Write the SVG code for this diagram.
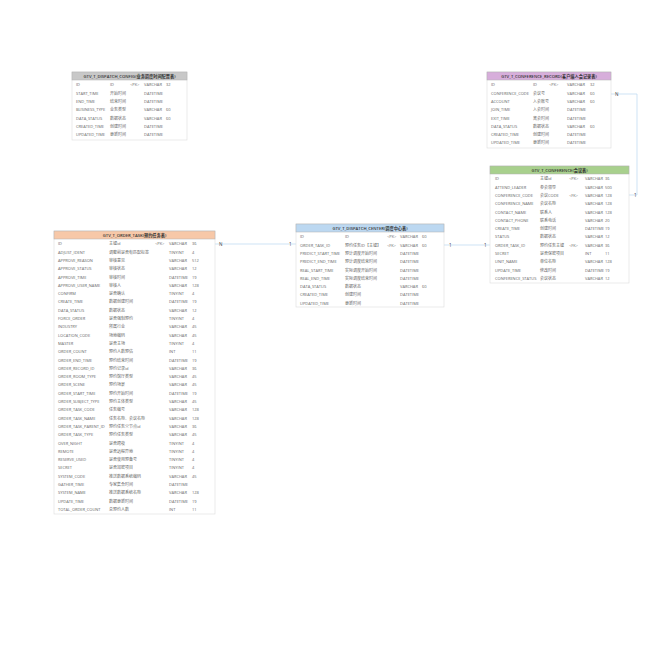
<svg xmlns="http://www.w3.org/2000/svg" width="650" height="650" viewBox="0 0 650 650">
<style>
.box{fill:#fff;stroke:#dcdcdc;stroke-width:0.6}
.hd{stroke:#b0b0b0;stroke-width:0.5}
.ht{font-family:"Open Sans","Noto Sans CJK SC",sans-serif;font-size:4.2px;font-weight:600;fill:#333;text-anchor:middle}
text{font-family:"Open Sans","Noto Sans CJK SC",sans-serif;font-size:4px;fill:#666}
.ln{fill:none;stroke:#b9d7f0;stroke-width:0.7}
.lb{font-size:4.6px;fill:#444}
</style>
<rect width="650" height="650" fill="#fff"/>

<g id="connectors">
<path class="ln" d="M215,244 H296"/>
<text class="lb" x="219" y="246">N</text>
<text class="lb" x="289" y="246">1</text>
<path class="ln" d="M444,245 H490"/>
<text class="lb" x="449" y="247">1</text>
<text class="lb" x="484" y="247">1</text>
<path class="ln" d="M611,94 H637 V195 H629"/>
<text class="lb" x="615" y="96">N</text>
<text class="lb" x="634" y="197">1</text>
</g>

<g id="dispatch_config">
<rect class="box" x="72" y="72" width="115" height="68"/>
<rect class="hd" x="72" y="72" width="115" height="8" fill="#c8c8c8"/>
<text class="ht" x="129.5" y="77.6">GTV_T_DISPATCH_CONFIG(业务调度时间配置表)</text>
<g transform="translate(0,86.4)">
<text x="76" y="0">ID</text><text x="110" y="0">ID</text><text x="130" y="0">&lt;PK&gt;</text><text x="144" y="0">VARCHAR</text><text x="166" y="0">32</text>
<text x="76" y="8.3">START_TIME</text><text x="110" y="8.3">开始时间</text><text x="144" y="8.3">DATETIME</text>
<text x="76" y="16.6">END_TIME</text><text x="110" y="16.6">结束时间</text><text x="144" y="16.6">DATETIME</text>
<text x="76" y="24.9">BUSINESS_TYPE</text><text x="110" y="24.9">业务类型</text><text x="144" y="24.9">VARCHAR</text><text x="166" y="24.9">60</text>
<text x="76" y="33.2">DATA_STATUS</text><text x="110" y="33.2">数据状态</text><text x="144" y="33.2">VARCHAR</text><text x="166" y="33.2">60</text>
<text x="76" y="41.5">CREATED_TIME</text><text x="110" y="41.5">创建时间</text><text x="144" y="41.5">DATETIME</text>
<text x="76" y="49.8">UPDATED_TIME</text><text x="110" y="49.8">更新时间</text><text x="144" y="49.8">DATETIME</text>
</g>
</g>

<g id="conference_record">
<rect class="box" x="487" y="72" width="124" height="76"/>
<rect class="hd" x="487" y="72" width="124" height="8" fill="#d7aedb"/>
<text class="ht" x="549" y="77.6">GTV_T_CONFERENCE_RECORD(客户端入会记录表)</text>
<g transform="translate(0,86.4)">
<text x="491" y="0">ID</text><text x="533" y="0">ID</text><text x="549" y="0">&lt;PK&gt;</text><text x="567" y="0">VARCHAR</text><text x="590" y="0">32</text>
<text x="491" y="8.3">CONFERENCE_CODE</text><text x="533" y="8.3">会议号</text><text x="567" y="8.3">VARCHAR</text><text x="590" y="8.3">60</text>
<text x="491" y="16.6">ACCOUNT</text><text x="533" y="16.6">入会账号</text><text x="567" y="16.6">VARCHAR</text><text x="590" y="16.6">60</text>
<text x="491" y="24.9">JOIN_TIME</text><text x="533" y="24.9">入会时间</text><text x="567" y="24.9">DATETIME</text>
<text x="491" y="33.2">EXIT_TIME</text><text x="533" y="33.2">离会时间</text><text x="567" y="33.2">DATETIME</text>
<text x="491" y="41.5">DATA_STATUS</text><text x="533" y="41.5">数据状态</text><text x="567" y="41.5">VARCHAR</text><text x="590" y="41.5">60</text>
<text x="491" y="49.8">CREATED_TIME</text><text x="533" y="49.8">创建时间</text><text x="567" y="49.8">DATETIME</text>
<text x="491" y="58.1">UPDATED_TIME</text><text x="533" y="58.1">更新时间</text><text x="567" y="58.1">DATETIME</text>
</g>
</g>

<g id="conference">
<rect class="box" x="490" y="166" width="139" height="117"/>
<rect class="hd" x="490" y="166" width="139" height="8" fill="#a8d08d"/>
<text class="ht" x="559.5" y="171.6">GTV_T_CONFERENCE(会议表)</text>
<g transform="translate(0,180.4)">
<text x="495" y="0">ID</text><text x="540" y="0">主键id</text><text x="569" y="0">&lt;PK&gt;</text><text x="585" y="0">VARCHAR</text><text x="605" y="0">36</text>
<text x="495" y="8.3">ATTEND_LEADER</text><text x="540" y="8.3">参会领导</text><text x="585" y="8.3">VARCHAR</text><text x="605" y="8.3">500</text>
<text x="495" y="16.6">CONFERENCE_CODE</text><text x="540" y="16.6">会议CODE</text><text x="569" y="16.6">&lt;FK&gt;</text><text x="585" y="16.6">VARCHAR</text><text x="605" y="16.6">128</text>
<text x="495" y="24.9">CONFERENCE_NAME</text><text x="540" y="24.9">会议名称</text><text x="585" y="24.9">VARCHAR</text><text x="605" y="24.9">128</text>
<text x="495" y="33.2">CONTACT_NAME</text><text x="540" y="33.2">联系人</text><text x="585" y="33.2">VARCHAR</text><text x="605" y="33.2">128</text>
<text x="495" y="41.5">CONTACT_PHONE</text><text x="540" y="41.5">联系电话</text><text x="585" y="41.5">VARCHAR</text><text x="605" y="41.5">20</text>
<text x="495" y="49.8">CREATE_TIME</text><text x="540" y="49.8">创建时间</text><text x="585" y="49.8">DATETIME</text><text x="605" y="49.8">19</text>
<text x="495" y="58.1">STATUS</text><text x="540" y="58.1">数据状态</text><text x="585" y="58.1">VARCHAR</text><text x="605" y="58.1">12</text>
<text x="495" y="66.4">ORDER_TASK_ID</text><text x="540" y="66.4">预约任务主键</text><text x="569" y="66.4">&lt;FK&gt;</text><text x="585" y="66.4">VARCHAR</text><text x="605" y="66.4">36</text>
<text x="495" y="74.7">SECRET</text><text x="540" y="74.7">是否保密项目</text><text x="585" y="74.7">INT</text><text x="605" y="74.7">11</text>
<text x="495" y="83">UNIT_NAME</text><text x="540" y="83">单位名称</text><text x="585" y="83">VARCHAR</text><text x="605" y="83">128</text>
<text x="495" y="91.3">UPDATE_TIME</text><text x="540" y="91.3">修改时间</text><text x="585" y="91.3">DATETIME</text><text x="605" y="91.3">19</text>
<text x="495" y="99.6">CONFERENCE_STATUS</text><text x="540" y="99.6">会议状态</text><text x="585" y="99.6">VARCHAR</text><text x="605" y="99.6">12</text>
</g>
</g>

<g id="dispatch_center">
<rect class="box" x="296" y="224" width="148" height="83"/>
<rect class="hd" x="296" y="224" width="148" height="8" fill="#bcd8f1"/>
<text class="ht" x="370" y="229.6">GTV_T_DISPATCH_CENTER(调度中心表)</text>
<g transform="translate(0,238.4)">
<text x="300" y="0">ID</text><text x="345" y="0">ID</text><text x="387" y="0">&lt;PK&gt;</text><text x="400" y="0">VARCHAR</text><text x="422" y="0">60</text>
<text x="300" y="8.3">ORDER_TASK_ID</text><text x="345" y="8.3">预约任务ID【主键】</text><text x="387" y="8.3">&lt;FK&gt;</text><text x="400" y="8.3">VARCHAR</text><text x="422" y="8.3">60</text>
<text x="300" y="16.6">PREDICT_START_TIME</text><text x="345" y="16.6">预计调度开始时间</text><text x="400" y="16.6">DATETIME</text>
<text x="300" y="24.9">PREDICT_END_TIME</text><text x="345" y="24.9">预计调度结束时间</text><text x="400" y="24.9">DATETIME</text>
<text x="300" y="33.2">REAL_START_TIME</text><text x="345" y="33.2">实际调度开始时间</text><text x="400" y="33.2">DATETIME</text>
<text x="300" y="41.5">REAL_END_TIME</text><text x="345" y="41.5">实际调度结束时间</text><text x="400" y="41.5">DATETIME</text>
<text x="300" y="49.8">DATA_STATUS</text><text x="345" y="49.8">数据状态</text><text x="400" y="49.8">VARCHAR</text><text x="422" y="49.8">60</text>
<text x="300" y="58.1">CREATED_TIME</text><text x="345" y="58.1">创建时间</text><text x="400" y="58.1">DATETIME</text>
<text x="300" y="66.4">UPDATED_TIME</text><text x="345" y="66.4">更新时间</text><text x="400" y="66.4">DATETIME</text>
</g>
</g>

<g id="order_task">
<rect class="box" x="54" y="231" width="161" height="283"/>
<rect class="hd" x="54" y="231" width="161" height="8" fill="#f7c8a8"/>
<text class="ht" x="134.5" y="236.6">GTV_T_ORDER_TASK(预约任务表)</text>
<g transform="translate(0,245.4)">
<text x="58" y="0">ID</text><text x="109" y="0">主键id</text><text x="155" y="0">&lt;PK&gt;</text><text x="169" y="0">VARCHAR</text><text x="192" y="0">36</text>
<text x="58" y="8.3">ADJUST_IDENT</text><text x="109" y="8.3">调整前是否有匹配标签</text><text x="169" y="8.3">TINYINT</text><text x="192" y="8.3">4</text>
<text x="58" y="16.6">APPROVE_REASON</text><text x="109" y="16.6">审核意见</text><text x="169" y="16.6">VARCHAR</text><text x="192" y="16.6">512</text>
<text x="58" y="24.9">APPROVE_STATUS</text><text x="109" y="24.9">审核状态</text><text x="169" y="24.9">VARCHAR</text><text x="192" y="24.9">12</text>
<text x="58" y="33.2">APPROVE_TIME</text><text x="109" y="33.2">审核时间</text><text x="169" y="33.2">DATETIME</text><text x="192" y="33.2">19</text>
<text x="58" y="41.5">APPROVE_USER_NAME</text><text x="109" y="41.5">审核人</text><text x="169" y="41.5">VARCHAR</text><text x="192" y="41.5">128</text>
<text x="58" y="49.8">CONFIRM</text><text x="109" y="49.8">是否确认</text><text x="169" y="49.8">TINYINT</text><text x="192" y="49.8">4</text>
<text x="58" y="58.1">CREATE_TIME</text><text x="109" y="58.1">数据创建时间</text><text x="169" y="58.1">DATETIME</text><text x="192" y="58.1">19</text>
<text x="58" y="66.4">DATA_STATUS</text><text x="109" y="66.4">数据状态</text><text x="169" y="66.4">VARCHAR</text><text x="192" y="66.4">12</text>
<text x="58" y="74.7">FORCE_ORDER</text><text x="109" y="74.7">是否强制预约</text><text x="169" y="74.7">TINYINT</text><text x="192" y="74.7">4</text>
<text x="58" y="83">INDUSTRY</text><text x="109" y="83">所属行业</text><text x="169" y="83">VARCHAR</text><text x="192" y="83">45</text>
<text x="58" y="91.3">LOCATION_CODE</text><text x="109" y="91.3">场地编码</text><text x="169" y="91.3">VARCHAR</text><text x="192" y="91.3">45</text>
<text x="58" y="99.6">MASTER</text><text x="109" y="99.6">是否主场</text><text x="169" y="99.6">TINYINT</text><text x="192" y="99.6">4</text>
<text x="58" y="107.9">ORDER_COUNT</text><text x="109" y="107.9">预约人数预估</text><text x="169" y="107.9">INT</text><text x="192" y="107.9">11</text>
<text x="58" y="116.2">ORDER_END_TIME</text><text x="109" y="116.2">预约结束时间</text><text x="169" y="116.2">DATETIME</text><text x="192" y="116.2">19</text>
<text x="58" y="124.5">ORDER_RECORD_ID</text><text x="109" y="124.5">预约记录id</text><text x="169" y="124.5">VARCHAR</text><text x="192" y="124.5">36</text>
<text x="58" y="132.8">ORDER_ROOM_TYPE</text><text x="109" y="132.8">预约馆厅类型</text><text x="169" y="132.8">VARCHAR</text><text x="192" y="132.8">45</text>
<text x="58" y="141.1">ORDER_SCENE</text><text x="109" y="141.1">预约场景</text><text x="169" y="141.1">VARCHAR</text><text x="192" y="141.1">45</text>
<text x="58" y="149.4">ORDER_START_TIME</text><text x="109" y="149.4">预约开始时间</text><text x="169" y="149.4">DATETIME</text><text x="192" y="149.4">19</text>
<text x="58" y="157.7">ORDER_SUBJECT_TYPE</text><text x="109" y="157.7">预约主体类型</text><text x="169" y="157.7">VARCHAR</text><text x="192" y="157.7">45</text>
<text x="58" y="166">ORDER_TASK_CODE</text><text x="109" y="166">任务编号</text><text x="169" y="166">VARCHAR</text><text x="192" y="166">128</text>
<text x="58" y="174.3">ORDER_TASK_NAME</text><text x="109" y="174.3">任务名称、会议名称</text><text x="169" y="174.3">VARCHAR</text><text x="192" y="174.3">128</text>
<text x="58" y="182.6">ORDER_TASK_PARENT_ID</text><text x="109" y="182.6">预约任务父节点id</text><text x="169" y="182.6">VARCHAR</text><text x="192" y="182.6">36</text>
<text x="58" y="190.9">ORDER_TASK_TYPE</text><text x="109" y="190.9">预约任务类型</text><text x="169" y="190.9">VARCHAR</text><text x="192" y="190.9">45</text>
<text x="58" y="199.2">OVER_NIGHT</text><text x="109" y="199.2">是否跨夜</text><text x="169" y="199.2">TINYINT</text><text x="192" y="199.2">4</text>
<text x="58" y="207.5">REMOTE</text><text x="109" y="207.5">是否远程异地</text><text x="169" y="207.5">TINYINT</text><text x="192" y="207.5">4</text>
<text x="58" y="215.8">RESERVE_USED</text><text x="109" y="215.8">是否使用预备号</text><text x="169" y="215.8">TINYINT</text><text x="192" y="215.8">4</text>
<text x="58" y="224.1">SECRET</text><text x="109" y="224.1">是否加密项目</text><text x="169" y="224.1">TINYINT</text><text x="192" y="224.1">4</text>
<text x="58" y="232.4">SYSTEM_CODE</text><text x="109" y="232.4">推送数据系统编码</text><text x="169" y="232.4">VARCHAR</text><text x="192" y="232.4">45</text>
<text x="58" y="240.7">GATHER_TIME</text><text x="109" y="240.7">专家集合时间</text><text x="169" y="240.7">DATETIME</text>
<text x="58" y="249">SYSTEM_NAME</text><text x="109" y="249">推送数据系统名称</text><text x="169" y="249">VARCHAR</text><text x="192" y="249">128</text>
<text x="58" y="257.3">UPDATE_TIME</text><text x="109" y="257.3">数据更新时间</text><text x="169" y="257.3">DATETIME</text><text x="192" y="257.3">19</text>
<text x="58" y="265.6">TOTAL_ORDER_COUNT</text><text x="109" y="265.6">总预约人数</text><text x="169" y="265.6">INT</text><text x="192" y="265.6">11</text>
</g>
</g>
</svg>
